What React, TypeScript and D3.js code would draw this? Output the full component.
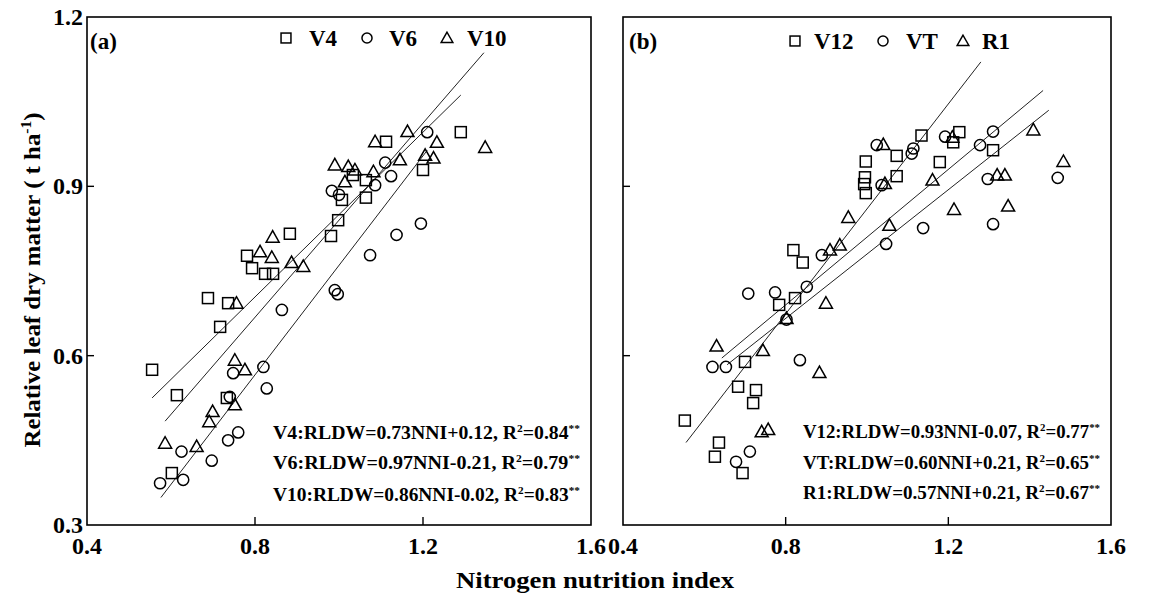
import React from "react";
import * as d3 from "d3";

// ---------- data ----------
const xTicks = [0.4, 0.8, 1.2, 1.6];
const yTicks = [0.3, 0.6, 0.9, 1.2];
const yInnerTicks = [0.6, 0.9];
const xInnerTicks = [0.8, 1.2];

// Panel (a)
const v4NNI = [0.555, 0.614, 0.602, 0.688, 0.736, 0.717, 0.733, 0.781, 0.793, 0.824, 0.843, 0.883, 0.981, 0.998, 1.064, 1.007, 1.033, 1.064, 1.112, 1.2, 1.29];
const v4RLDW = [0.575, 0.53, 0.392, 0.702, 0.693, 0.651, 0.525, 0.777, 0.755, 0.745, 0.745, 0.816, 0.812, 0.84, 0.88, 0.876, 0.92, 0.911, 0.979, 0.929, 0.996];
const v6NNI = [0.99, 0.997, 0.864, 0.748, 0.82, 0.828, 0.74, 0.76, 0.736, 0.625, 0.697, 0.574, 0.629, 1.074, 1.137, 1.195, 0.983, 1.11, 1.124, 1.086, 1.0, 1.21];
const v6RLDW = [0.716, 0.709, 0.681, 0.569, 0.58, 0.542, 0.527, 0.464, 0.45, 0.43, 0.414, 0.374, 0.38, 0.778, 0.814, 0.834, 0.892, 0.942, 0.918, 0.902, 0.885, 0.996];
const v10NNI = [1.086, 1.163, 1.233, 1.348, 1.205, 1.225, 1.145, 0.99, 1.022, 1.038, 1.082, 1.014, 0.842, 0.812, 0.84, 0.887, 0.915, 0.756, 0.752, 0.776, 0.752, 0.699, 0.691, 0.586, 0.661];
const v10RLDW = [0.979, 0.997, 0.978, 0.969, 0.955, 0.95, 0.947, 0.938, 0.935, 0.929, 0.926, 0.908, 0.81, 0.784, 0.774, 0.765, 0.758, 0.693, 0.592, 0.575, 0.513, 0.501, 0.483, 0.445, 0.439];

// Panel (b)
const v12NNI = [1.134, 1.227, 1.212, 1.073, 0.997, 1.179, 1.31, 1.073, 0.995, 0.993, 0.997, 0.819, 0.842, 0.823, 0.784, 0.7, 0.683, 0.727, 0.72, 0.552, 0.636, 0.626, 0.694];
const v12RLDW = [0.99, 0.996, 0.978, 0.954, 0.944, 0.943, 0.964, 0.918, 0.916, 0.904, 0.888, 0.787, 0.765, 0.702, 0.69, 0.589, 0.545, 0.539, 0.516, 0.485, 0.446, 0.421, 0.392];
const vtNNI = [1.31, 1.278, 1.192, 1.114, 1.11, 1.024, 1.036, 1.297, 1.469, 1.31, 1.138, 1.047, 0.889, 0.852, 0.774, 0.708, 0.802, 0.835, 0.62, 0.653, 0.712, 0.678];
const vtRLDW = [0.997, 0.973, 0.988, 0.967, 0.958, 0.973, 0.902, 0.913, 0.915, 0.833, 0.826, 0.798, 0.778, 0.722, 0.712, 0.71, 0.664, 0.592, 0.58, 0.58, 0.43, 0.412];
const r1NNI = [1.409, 1.483, 1.339, 1.32, 1.347, 1.214, 1.161, 1.04, 1.21, 1.044, 1.055, 0.954, 0.933, 0.909, 0.899, 0.802, 0.63, 0.744, 0.883, 0.741, 0.757];
const r1RLDW = [1.0, 0.944, 0.92, 0.92, 0.865, 0.859, 0.911, 0.974, 0.987, 0.905, 0.831, 0.845, 0.796, 0.787, 0.693, 0.666, 0.617, 0.609, 0.57, 0.465, 0.469];

// regression fits: [slope, intercept], NNI range of the drawn line
const stagesA = ["V4", "V6", "V10"];
const slopesA = [0.73, 0.97, 0.86];
const interceptsA = [0.12, -0.21, -0.02];
const fitFromA = [0.555, 0.576, 0.586];
const fitToA = [1.29, 1.21, 1.345];
const r2A = ["0.84", "0.79", "0.83"];

const stagesB = ["V12", "VT", "R1"];
const slopesB = [0.93, 0.6, 0.57];
const interceptsB = [-0.07, 0.21, 0.21];
const fitFromB = [0.555, 0.643, 0.656];
const fitToB = [1.28, 1.433, 1.447];
const r2B = ["0.77", "0.65", "0.67"];

const shapes = ["square", "circle", "triangle"];

// ---------- layout ----------
const W = 1149;
const H = 598;
const top = 17;
const bottom = 525;
const FONT = "'Liberation Serif', 'Times New Roman', serif";

const yScale = d3.scaleLinear().domain([0.3, 1.2]).range([bottom, top]);

function fmt(v: number) {
  return d3.format(".1f")(v);
}

function eqText(stage: string, slope: number, intercept: number) {
  const sign = intercept < 0 ? "-" : "+";
  return `${stage}:RLDW=${d3.format(".2f")(slope)}NNI${sign}${d3.format(".2f")(Math.abs(intercept))}, R`;
}

function Marker({ shape, cx, cy, s = 1 }: { shape: string; cx: number; cy: number; s?: number }) {
  const common = { fill: "none", stroke: "#000", strokeWidth: 1.5 };
  if (shape === "square") {
    const h = 5.5 * s;
    return <rect x={cx - h} y={cy - h} width={2 * h} height={2 * h} {...common} />;
  }
  if (shape === "circle") {
    return <circle cx={cx} cy={cy} r={5.6 * s} {...common} />;
  }
  const w = 6.5 * s;
  const pts = [
    [cx, cy - 6.5 * s],
    [cx - w, cy + 5 * s],
    [cx + w, cy + 5 * s],
  ]
    .map((p) => p.join(","))
    .join(" ");
  return <polygon points={pts} {...common} strokeLinejoin="miter" />;
}

type PanelProps = {
  x0: number;
  x1: number;
  label: string;
  labelX: number;
  series: { x: number[]; y: number[] }[];
  stages: string[];
  slopes: number[];
  intercepts: number[];
  fitFrom: number[];
  fitTo: number[];
  r2: string[];
  legendMarkerX: number[];
  legendTextX: number[];
  legendY: number;
  eqX: number;
  eqWidth: number;
  eqY: number[];
  yLabels: boolean;
};

function Panel(p: PanelProps) {
  const xScale = d3.scaleLinear().domain([0.4, 1.6]).range([p.x0, p.x1]);
  return (
    <g>
      {/* regression lines */}
      {p.slopes.map((s, i) => {
        const xs = [p.fitFrom[i], p.fitTo[i]];
        const path = d3
          .line<number>()
          .x((d) => xScale(d))
          .y((d) => yScale(s * d + p.intercepts[i]))(xs);
        return <path key={"l" + i} d={path || ""} stroke="#222" strokeWidth={1} fill="none" />;
      })}
      {/* points */}
      {p.series.map((ser, si) =>
        ser.x.map((xv, j) => (
          <Marker key={`p${si}-${j}`} shape={shapes[si]} cx={xScale(xv)} cy={yScale(ser.y[j])} />
        ))
      )}
      {/* frame */}
      <rect x={p.x0} y={top} width={p.x1 - p.x0} height={bottom - top} fill="none" stroke="#000" strokeWidth={1.6} />
      {/* inner ticks */}
      {yInnerTicks.map((t) => (
        <line key={"yt" + t} x1={p.x0} x2={p.x0 + 7} y1={yScale(t)} y2={yScale(t)} stroke="#000" strokeWidth={1.4} />
      ))}
      {xInnerTicks.map((t) => (
        <line key={"xt" + t} x1={xScale(t)} x2={xScale(t)} y1={bottom} y2={bottom - 8} stroke="#000" strokeWidth={1.4} />
      ))}
      {/* tick labels */}
      {xTicks.map((t) => (
        <text key={"xl" + t} x={xScale(t)} y={554} textAnchor="middle" fontFamily={FONT} fontWeight="bold" fontSize={24}>
          {fmt(t)}
        </text>
      ))}
      {p.yLabels &&
        yTicks.map((t) => (
          <text key={"yl" + t} x={p.x0 - 4} y={yScale(t)} dy="0.33em" textAnchor="end" fontFamily={FONT} fontWeight="bold" fontSize={24}>
            {fmt(t)}
          </text>
        ))}
      {/* panel label */}
      <text x={p.labelX} y={49} fontFamily={FONT} fontWeight="bold" fontSize={23}>
        {p.label}
      </text>
      {/* legend */}
      {p.stages.map((st, i) => (
        <g key={"lg" + i}>
          <Marker shape={shapes[i]} cx={p.legendMarkerX[i]} cy={p.legendY} s={0.9} />
          <text x={p.legendTextX[i]} y={p.legendY} dy="0.35em" fontFamily={FONT} fontWeight="bold" fontSize={23}>
            {st}
          </text>
        </g>
      ))}
      {/* equations */}
      {p.stages.map((st, i) => (
        <text
          key={"eq" + i}
          x={p.eqX}
          y={p.eqY[i]}
          fontFamily={FONT}
          fontWeight="bold"
          fontSize={19}
          textLength={p.eqWidth}
          lengthAdjust="spacingAndGlyphs"
        >
          {eqText(st, p.slopes[i], p.intercepts[i])}
          <tspan dy={-7} fontSize={11}>2</tspan>
          <tspan dy={7}>{"=" + p.r2[i]}</tspan>
          <tspan dy={-7} fontSize={11}>**</tspan>
        </text>
      ))}
    </g>
  );
}

export default function App() {
  return (
    <svg width={W} height={H} style={{ position: "absolute", left: 0, top: 0, background: "#fff" }}>
      <rect x={0} y={0} width={W} height={H} fill="#fff" />
      <Panel
        x0={87}
        x1={591}
        label="(a)"
        labelX={90}
        series={[
          { x: v4NNI, y: v4RLDW },
          { x: v6NNI, y: v6RLDW },
          { x: v10NNI, y: v10RLDW },
        ]}
        stages={stagesA}
        slopes={slopesA}
        intercepts={interceptsA}
        fitFrom={fitFromA}
        fitTo={fitToA}
        r2={r2A}
        legendMarkerX={[286, 367, 447]}
        legendTextX={[309, 389, 467]}
        legendY={38}
        eqX={273}
        eqWidth={307}
        eqY={[439, 469, 501]}
        yLabels={true}
      />
      <Panel
        x0={623}
        x1={1111}
        label="(b)"
        labelX={629}
        series={[
          { x: v12NNI, y: v12RLDW },
          { x: vtNNI, y: vtRLDW },
          { x: r1NNI, y: r1RLDW },
        ]}
        stages={stagesB}
        slopes={slopesB}
        intercepts={interceptsB}
        fitFrom={fitFromB}
        fitTo={fitToB}
        r2={r2B}
        legendMarkerX={[795, 883, 963]}
        legendTextX={[814, 906, 982]}
        legendY={41}
        eqX={803}
        eqWidth={297}
        eqY={[438, 469, 499]}
        yLabels={false}
      />
      {/* axis titles */}
      <text
        x={595}
        y={588}
        textAnchor="middle"
        fontFamily={FONT}
        fontWeight="bold"
        fontSize={24}
        textLength={278}
        lengthAdjust="spacingAndGlyphs"
      >
        Nitrogen nutrition index
      </text>
      <text
        transform="translate(40,280) rotate(-90)"
        textAnchor="middle"
        fontFamily={FONT}
        fontWeight="bold"
        fontSize={24}
        textLength={335}
        lengthAdjust="spacingAndGlyphs"
      >
        Relative leaf dry matter ( t ha<tspan dy={-9} fontSize={15}>-1</tspan>
        <tspan dy={9}>)</tspan>
      </text>
    </svg>
  );
}
